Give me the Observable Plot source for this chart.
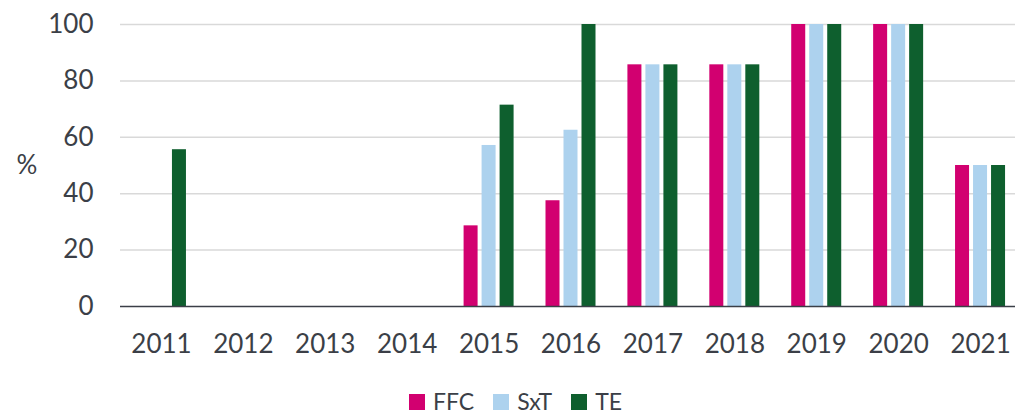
<!DOCTYPE html>
<html>
<head>
<meta charset="utf-8">
<script src="https://cdn.jsdelivr.net/npm/d3@7"></script>
<script src="https://cdn.jsdelivr.net/npm/@observablehq/plot@0.6"></script>
<style>
  html, body { margin: 0; padding: 0; background: #fff; }
  #wrap { width: 1015px; height: 415px; overflow: hidden; position: relative; font-family: Lato, "Open Sans", sans-serif; color: #3b3f47; }
  #legend { position: absolute; top: 390px; left: 409px; display: flex; gap: 19px; font-size: 23px; line-height: 23px; }
  #legend .item { display: flex; align-items: center; gap: 8px; }
  #legend .sw { width: 16px; height: 16px; display: inline-block; }
</style>
</head>
<body>
<div id="wrap"><div id="chart"></div><div id="legend"></div></div>
<script>
const years = ["2011","2012","2013","2014","2015","2016","2017","2018","2019","2020","2021"];
const seriesNames = ["FFC","SxT","TE"];
const seriesColors = ["#D20070","#ADD2EE","#0E5F2E"];
const ffc = [null,null,null,null,28.6,37.5,85.7,85.7,100,100,50];
const sxt = [null,null,null,null,57.1,62.5,85.7,85.7,100,100,50];
const te  = [55.6,null,null,null,71.4,100,85.7,85.7,100,100,50];
const yTicks = [0,20,40,60,80,100];

const seriesData = [ffc, sxt, te].map(arr =>
  arr.map((v, i) => ({year: years[i], value: v})).filter(d => d.value != null));

const textColor = "#3b3f47";
const x0 = 120, x1 = 1021;
const bandW = (x1 - x0) / years.length;
const barW = 14, step = 18;
const inset = (bandW - barW) / 2;

const chart = Plot.plot({
  width: 1015,
  height: 370,
  marginLeft: 120,
  marginRight: 0,
  marginTop: 24,
  marginBottom: 64,
  style: {fontFamily: "Lato, 'Open Sans', sans-serif", fontSize: "26px", color: textColor, background: "transparent", overflow: "visible"},
  x: {domain: years, range: [x0, x1], padding: 0, round: false, tickSize: 0, tickPadding: 28, label: null},
  y: {domain: [0, 100], ticks: yTicks, tickSize: 0, tickPadding: 27, label: null},
  marks: [
    Plot.gridY(yTicks.filter(d => d > 0), {stroke: "#d9d9d9", strokeOpacity: 1, strokeWidth: 1.5}),
    ...seriesData.map((d, si) => Plot.barY(d, {
      x: "year", y: "value", fill: seriesColors[si],
      insetLeft: inset, insetRight: inset, dx: (si - 1) * step
    })),
    Plot.ruleY([0], {stroke: textColor, strokeWidth: 1.5}),
    Plot.text(["%"], {frameAnchor: "left", dx: -104, fontSize: 26, fill: textColor})
  ]
});
document.getElementById("chart").appendChild(chart);

const legend = document.getElementById("legend");
seriesNames.forEach((s, i) => {
  const item = document.createElement("div");
  item.className = "item";
  const sw = document.createElement("span");
  sw.className = "sw";
  sw.style.background = seriesColors[i];
  const t = document.createElement("span");
  t.textContent = s;
  item.appendChild(sw); item.appendChild(t);
  legend.appendChild(item);
});
</script>
</body>
</html>
